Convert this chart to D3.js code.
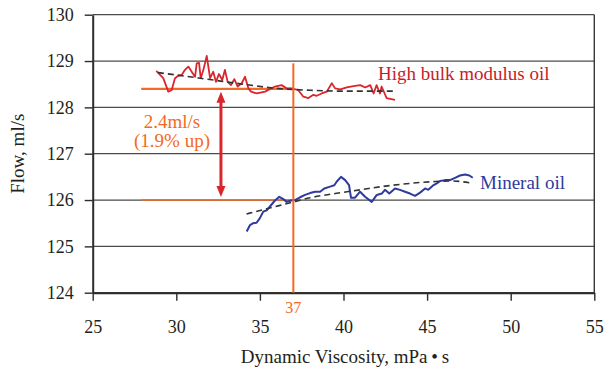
<!DOCTYPE html>
<html>
<head>
<meta charset="utf-8">
<script src="https://d3js.org/d3.v7.min.js"></script>
<style>
  body { margin: 0; background: #fff; }
  svg text { font-family: "Liberation Serif", "DejaVu Serif", serif; }
</style>
</head>
<body>
<svg width="604" height="371"></svg>
<script>
// values
var xTicks = [25, 30, 35, 40, 45, 50, 55];
var yTicks = [124, 125, 126, 127, 128, 129, 130];

var hbX = [28.8, 29.22, 29.52, 29.72, 29.92, 30.12, 30.32, 30.52, 30.72, 30.92, 31.12, 31.22, 31.36, 31.46, 31.62, 31.82, 32.02, 32.21, 32.37, 32.55, 32.75, 32.91, 33.07, 33.27, 33.47, 33.67, 33.91, 34.11, 34.31, 34.47, 34.81, 35.31, 35.9, 36.3, 36.6, 36.9, 37.3, 37.6, 37.9, 38.2, 38.4, 38.7, 39.0, 39.3, 39.5, 39.8, 40.2, 40.6, 41.0, 41.3, 41.6, 41.8, 41.98, 42.18, 42.28, 42.58, 43.08];
var hbY = [128.79, 128.63, 128.34, 128.37, 128.63, 128.68, 128.70, 128.81, 128.88, 128.77, 128.66, 128.95, 128.96, 128.63, 128.81, 129.11, 128.63, 128.77, 128.55, 128.72, 128.59, 128.81, 128.55, 128.48, 128.61, 128.45, 128.52, 128.66, 128.41, 128.34, 128.30, 128.34, 128.45, 128.48, 128.41, 128.41, 128.37, 128.23, 128.20, 128.27, 128.25, 128.30, 128.34, 128.52, 128.41, 128.39, 128.43, 128.46, 128.48, 128.43, 128.48, 128.30, 128.48, 128.30, 128.45, 128.20, 128.16];

var mnX = [34.21, 34.41, 34.6, 34.8, 35.0, 35.2, 35.41, 35.6, 35.9, 36.16, 36.4, 36.6, 36.86, 37.1, 37.4, 37.7, 38.0, 38.3, 38.6, 38.85, 39.2, 39.45, 39.6, 39.85, 40.1, 40.33, 40.45, 40.69, 40.99, 41.29, 41.69, 41.99, 42.29, 42.48, 42.74, 43.08, 43.38, 43.68, 43.98, 44.28, 44.58, 44.88, 45.07, 45.34, 45.58, 45.78, 46.07, 46.37, 46.67, 46.97, 47.27, 47.53, 47.73];
var mnY = [125.32, 125.46, 125.50, 125.51, 125.61, 125.75, 125.78, 125.86, 125.99, 126.07, 126.02, 125.96, 125.99, 126.00, 126.06, 126.11, 126.15, 126.18, 126.18, 126.25, 126.29, 126.32, 126.40, 126.50, 126.43, 126.32, 126.05, 126.05, 126.18, 126.07, 125.96, 126.11, 126.14, 126.22, 126.14, 126.25, 126.22, 126.18, 126.14, 126.09, 126.16, 126.25, 126.22, 126.31, 126.36, 126.41, 126.43, 126.43, 126.48, 126.53, 126.55, 126.53, 126.48];

var hbTrendX = [28.9, 30, 32, 34, 36, 38, 40, 43];
var hbTrendY = [128.75, 128.70, 128.60, 128.50, 128.41, 128.37, 128.35, 128.35];
var mnTrendX = [34.2, 35.3, 36.7, 38, 39.5, 41, 42.5, 44, 45.5, 46.5, 47.6];
var mnTrendY = [125.70, 125.80, 125.93, 126.05, 126.14, 126.22, 126.30, 126.36, 126.40, 126.41, 126.37];

var refViscosity = 37;
var hbLevel = 128.4, mnLevel = 126.0;
var levelStart = 27.9;
var arrowX = 32.67;
var seriesNames = ["High bulk modulus oil", "Mineral oil"];
var diffLabel = ["2.4ml/s", "(1.9% up)"];

var svg = d3.select("svg");
var pLeft = 92.7, pRight = 594.3, pTop = 14.7, pBottom = 292.7;

var x = d3.scaleLinear().domain([25, 55]).range([pLeft, pRight]);
var y = d3.scaleLinear().domain([124, 130]).range([pBottom, pTop]);

var orange = "#f26a24", red = "#d9262c", blue = "#2e3a9c";

// gridlines
svg.append("g").selectAll("line")
  .data(yTicks).enter().append("line")
    .attr("x1", pLeft).attr("x2", pRight)
    .attr("y1", y).attr("y2", y)
    .attr("stroke", "#4d4a48").attr("stroke-width", 1.2);

// right frame
svg.append("line")
  .attr("x1", pRight).attr("x2", pRight)
  .attr("y1", pTop).attr("y2", pBottom)
  .attr("stroke", "#3a3735").attr("stroke-width", 1.4);

var yAxis = svg.append("g")
  .attr("transform", "translate(" + pLeft + ",0)")
  .call(d3.axisLeft(y).tickValues(yTicks).tickFormat(d3.format("d")).tickSize(8).tickPadding(11).tickSizeOuter(0));
var xAxis = svg.append("g")
  .attr("transform", "translate(0," + pBottom + ")")
  .call(d3.axisBottom(x).tickValues(xTicks).tickFormat(d3.format("d")).tickSize(8).tickPadding(20).tickSizeOuter(0));

[yAxis, xAxis].forEach(function(a) {
  a.select(".domain").attr("stroke", "#2e2b29").attr("stroke-width", 2);
  a.selectAll(".tick line").attr("stroke", "#2e2b29").attr("stroke-width", 1.4);
  a.selectAll("text").attr("font-family", "Liberation Serif").attr("font-size", 18).attr("fill", "#231f20");
});

// reference lines
svg.append("line")
  .attr("x1", x(levelStart)).attr("x2", x(refViscosity))
  .attr("y1", y(hbLevel)).attr("y2", y(hbLevel))
  .attr("stroke", orange).attr("stroke-width", 2.2);
svg.append("line")
  .attr("x1", x(levelStart)).attr("x2", x(refViscosity))
  .attr("y1", y(mnLevel)).attr("y2", y(mnLevel))
  .attr("stroke", orange).attr("stroke-width", 1.5);

var line = d3.line().x(function(d) { return x(d[0]); }).y(function(d) { return y(d[1]); });
var curve = d3.line().curve(d3.curveMonotoneX).x(function(d) { return x(d[0]); }).y(function(d) { return y(d[1]); });

svg.append("path")
  .datum(hbX.map(function(v, i) { return [v, hbY[i]]; }))
  .attr("d", line).attr("fill", "none")
  .attr("stroke", red).attr("stroke-width", 1.8).attr("stroke-linejoin", "round");
svg.append("path")
  .datum(mnX.map(function(v, i) { return [v, mnY[i]]; }))
  .attr("d", line).attr("fill", "none")
  .attr("stroke", blue).attr("stroke-width", 2).attr("stroke-linejoin", "round");

[[hbTrendX, hbTrendY], [mnTrendX, mnTrendY]].forEach(function(t) {
  svg.append("path")
    .datum(t[0].map(function(v, i) { return [v, t[1][i]]; }))
    .attr("d", curve).attr("fill", "none")
    .attr("stroke", "#333").attr("stroke-width", 1.6)
    .attr("stroke-dasharray", "6,4");
});

// vertical reference at 37
svg.append("line")
  .attr("x1", x(refViscosity)).attr("x2", x(refViscosity))
  .attr("y1", y(128.95)).attr("y2", pBottom)
  .attr("stroke", orange).attr("stroke-width", 2);
svg.append("text")
  .attr("x", x(refViscosity)).attr("y", 313)
  .attr("text-anchor", "middle")
  .attr("font-family", "Liberation Sans").attr("font-size", 16)
  .attr("fill", orange).text(refViscosity);

// double arrow
var ax = x(arrowX), ay1 = y(hbLevel) + 3, ay2 = y(mnLevel) - 3;
svg.append("line")
  .attr("x1", ax).attr("x2", ax)
  .attr("y1", ay1 + 8).attr("y2", ay2 - 8)
  .attr("stroke", red).attr("stroke-width", 3);
svg.append("path")
  .attr("d", "M" + ax + "," + ay1 + "L" + (ax - 4.5) + "," + (ay1 + 11) + "L" + (ax + 4.5) + "," + (ay1 + 11) + "Z")
  .attr("fill", red);
svg.append("path")
  .attr("d", "M" + ax + "," + ay2 + "L" + (ax - 4.5) + "," + (ay2 - 11) + "L" + (ax + 4.5) + "," + (ay2 - 11) + "Z")
  .attr("fill", red);

svg.selectAll(".diff").data(diffLabel).enter().append("text")
  .attr("x", 172).attr("y", function(d, i) { return 128 + i * 19; })
  .attr("text-anchor", "middle")
  .attr("font-size", 19).attr("fill", orange)
  .text(function(d) { return d; });

// series labels
svg.append("text").attr("x", 378).attr("y", 80)
  .attr("font-size", 19).attr("fill", "#c8202a").text(seriesNames[0]);
svg.append("text").attr("x", 480).attr("y", 189)
  .attr("font-size", 19).attr("fill", blue).text(seriesNames[1]);

// axis titles
svg.append("text").attr("x", 345).attr("y", 363)
  .attr("text-anchor", "middle").attr("font-size", 19).attr("fill", "#231f20")
  .text("Dynamic Viscosity, mPa\u2009\u2022\u2009s");
svg.append("text")
  .attr("transform", "translate(24," + ((pTop + pBottom) / 2) + ")rotate(-90)")
  .attr("text-anchor", "middle").attr("font-size", 19).attr("fill", "#231f20")
  .text("Flow, ml/s");
</script>
</body>
</html>
